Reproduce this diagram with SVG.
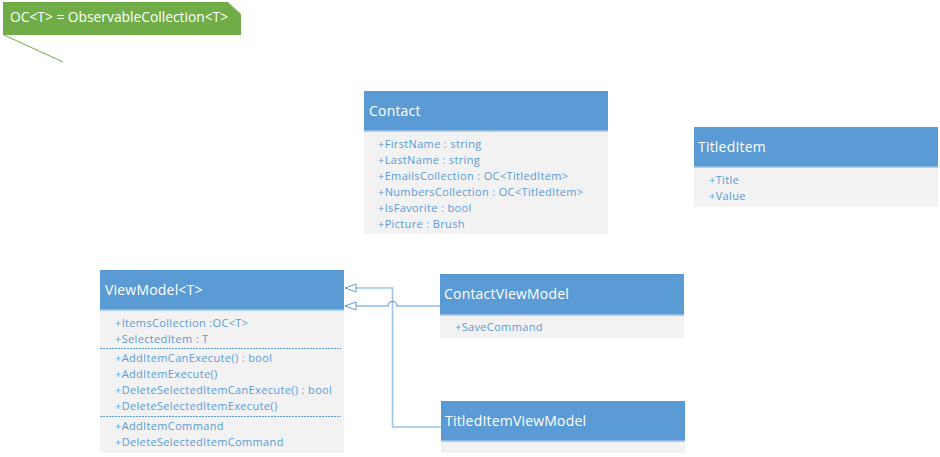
<svg xmlns="http://www.w3.org/2000/svg" width="940" height="457" viewBox="0 0 940 457">
<style>
.hd{fill:#5B9BD5}
.bd{fill:#F2F2F2}
.ht{font-family:"Open Sans","Noto Sans",sans-serif;font-size:14px;letter-spacing:0.2px;fill:#FFFFFF}
.nt{font-family:"Open Sans","Noto Sans",sans-serif;font-size:13.8px;fill:#FFFFFF}
.at{font-family:"Open Sans","Noto Sans",sans-serif;font-size:11px;letter-spacing:0.35px;fill:#5B9BD5}
.sep{stroke:#9DC3E6;stroke-width:1.5}
.dash{stroke:#5B9BD5;stroke-width:1;stroke-dasharray:2,1}
.con{fill:none;stroke:#5B9BD5;stroke-width:1.2}
.con2{fill:none;stroke:#9DC3E6;stroke-width:1.6}
</style>
<defs>
<marker id="tri" markerWidth="14" markerHeight="10" refX="12" refY="5" orient="auto" markerUnits="userSpaceOnUse">
<path d="M1,1 L12,5 L1,9 Z" fill="#FFFFFF" stroke="#5B9BD5" stroke-width="1"/>
</marker>
</defs>
<rect width="940" height="457" fill="#FFFFFF"/>

<g id="note">
<path d="M3,2 L228,2 L241,14 L241,35 L3,35 Z" fill="#70AD47"/>
<path d="M228,2 L241,14" stroke="#C5E0B4" stroke-width="1" fill="none"/>
<line x1="4" y1="35" x2="63" y2="62" stroke="#70AD47" stroke-width="1"/>
<text x="10" y="22" class="nt">OC&lt;T&gt; = ObservableCollection&lt;T&gt;</text>
</g>

<g id="contact">
<rect x="364" y="91" width="244" height="40" class="hd"/>
<rect x="364" y="131" width="244" height="103" class="bd"/>
<line x1="364" y1="131" x2="608" y2="131" class="sep"/>
<text x="369" y="116" class="ht">Contact</text>
<text x="378" y="148" class="at">+FirstName : string</text>
<text x="378" y="164" class="at">+LastName : string</text>
<text x="378" y="180" class="at">+EmailsCollection : OC&lt;TitledItem&gt;</text>
<text x="378" y="196" class="at">+NumbersCollection : OC&lt;TitledItem&gt;</text>
<text x="378" y="212" class="at">+IsFavorite : bool</text>
<text x="378" y="228" class="at">+Picture : Brush</text>
</g>

<g id="titleditem">
<rect x="694" y="127" width="244" height="40" class="hd"/>
<rect x="694" y="167" width="244" height="40" class="bd"/>
<line x1="694" y1="167" x2="938" y2="167" class="sep"/>
<text x="698" y="152" class="ht">TitledItem</text>
<text x="709" y="184" class="at">+Title</text>
<text x="709" y="200" class="at">+Value</text>
</g>

<g id="viewmodel">
<rect x="100" y="270" width="244" height="40" class="hd"/>
<rect x="100" y="310" width="244" height="143" class="bd"/>
<line x1="100" y1="310" x2="344" y2="310" class="sep"/>
<text x="105" y="295" class="ht">ViewModel&lt;T&gt;</text>
<text x="115" y="327" class="at">+ItemsCollection :OC&lt;T&gt;</text>
<text x="115" y="343" class="at">+SelectedItem : T</text>
<line x1="100" y1="348.5" x2="341" y2="348.5" class="dash"/>
<text x="115" y="362" class="at">+AddItemCanExecute() : bool</text>
<text x="115" y="378" class="at">+AddItemExecute()</text>
<text x="115" y="394" class="at">+DeleteSelectedItemCanExecute() : bool</text>
<text x="115" y="410" class="at">+DeleteSelectedItemExecute()</text>
<line x1="100" y1="416.5" x2="341" y2="416.5" class="dash"/>
<text x="115" y="430" class="at">+AddItemCommand</text>
<text x="115" y="446" class="at">+DeleteSelectedItemCommand</text>
</g>

<g id="contactviewmodel">
<rect x="440" y="274" width="244" height="41" class="hd"/>
<rect x="440" y="315" width="244" height="23" class="bd"/>
<line x1="440" y1="315" x2="684" y2="315" class="sep"/>
<text x="444" y="299" class="ht">ContactViewModel</text>
<text x="455" y="331" class="at">+SaveCommand</text>
</g>

<g id="titleditemviewmodel">
<rect x="441" y="401" width="244" height="40" class="hd"/>
<rect x="441" y="441" width="244" height="12" class="bd"/>
<line x1="441" y1="441" x2="685" y2="441" class="sep"/>
<text x="445" y="426" class="ht">TitledItemViewModel</text>
</g>

<g id="connectors">
<path d="M441,427 L392.5,427 L392.5,288 L345,288" class="con2" marker-end="url(#tri)"/>
<path d="M440,306 L397,306 A4.5,4.5 0 0 0 388,306 L345,306" class="con" marker-end="url(#tri)"/>
</g>
</svg>
